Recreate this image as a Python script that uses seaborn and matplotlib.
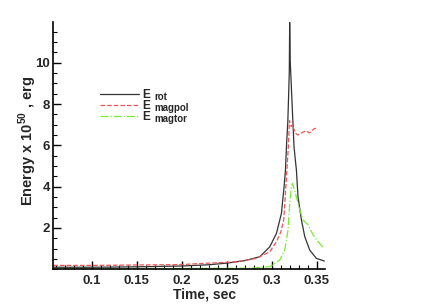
import matplotlib
matplotlib.use("Agg")
import matplotlib.pyplot as plt
from matplotlib.ticker import MultipleLocator
import pandas as pd
import seaborn as sns

# E_rot (solid black)
rot_t = [0.057, 0.1, 0.15, 0.2, 0.23, 0.25, 0.27, 0.2867, 0.2978, 0.3052,
         0.3107, 0.3137, 0.3152, 0.3165, 0.3178, 0.3188, 0.3195, 0.3199,
         0.3205, 0.3215, 0.3228, 0.3248, 0.3262, 0.3274, 0.3292, 0.333,
         0.3367, 0.3422, 0.3496, 0.3585]
rot_e = [0.1, 0.1, 0.12, 0.16, 0.22, 0.3, 0.42, 0.61, 1.09, 1.74,
         2.7, 4.0, 4.8, 6.1, 7.1, 8.5, 9.6, 11.95,
         10.1, 9.1, 7.8, 5.9, 5.3, 4.8, 3.5, 2.39,
         1.58, 0.93, 0.53, 0.4]

# E_magpol (red dashed)
pol_t = [0.057, 0.1, 0.15, 0.2, 0.22, 0.24, 0.26, 0.283, 0.2978, 0.3052,
         0.31, 0.3133, 0.3167, 0.3185, 0.3197, 0.3215, 0.323, 0.326, 0.329,
         0.333, 0.338, 0.342, 0.347, 0.351]
pol_e = [0.19, 0.19, 0.21, 0.23, 0.28, 0.32, 0.36, 0.53, 0.85, 1.34,
         1.8, 2.4, 4.7, 6.0, 7.2, 6.9, 7.0, 6.6, 6.5,
         6.6, 6.7, 6.6, 6.8, 6.85]

# E_magtor (green dash-dot)
tor_t = [0.057, 0.1, 0.15, 0.2, 0.24, 0.2756, 0.298, 0.3089, 0.3144, 0.3181,
         0.32, 0.3219, 0.323, 0.3274, 0.3311, 0.3348, 0.3404, 0.346, 0.3515,
         0.357]
tor_e = [0.03, 0.03, 0.03, 0.04, 0.05, 0.05, 0.13, 0.45, 0.93, 1.9,
         3.2, 4.0, 4.16, 3.5, 2.87, 2.39, 2.15, 1.66, 1.34,
         1.06]

subscripts = ["rot", "magpol", "magtor"]

sns.set_style("ticks")
plt.rcParams["font.family"] = ["Liberation Sans", "DejaVu Sans"]
plt.rcParams["font.weight"] = "bold"
plt.rcParams["mathtext.fontset"] = "custom"
plt.rcParams["mathtext.rm"] = "Liberation Sans"
plt.rcParams["mathtext.bf"] = "Liberation Sans:bold"

fig = plt.figure(figsize=(4.36, 3.08), dpi=100)
ax = fig.add_axes([0.1216, 0.1256, 0.6234, 0.803])

series = [
    (rot_t, rot_e, "#333333", "-", None),
    (pol_t, pol_e, "#ee5555", "--", (10, 7)),
    (tor_t, tor_e, "#77ee33", "-.", (10, 3, 1.5, 3)),
]
for t, e, col, ls, dash in series:
    df = pd.DataFrame({"time": t, "energy": e})
    kw = dict(x="time", y="energy", data=df, ax=ax, color=col,
              linewidth=0.9, label="E", linestyle=ls)
    if dash is not None:
        kw["dashes"] = dash
    sns.lineplot(**kw)

ax.set_xlim(0.0567, 0.359)
ax.set_ylim(0, 11.97)
ax.set_xticks([0.1, 0.15, 0.2, 0.25, 0.3, 0.35])
ax.set_xticklabels(["0.1", "0.15", "0.2", "0.25", "0.3", "0.35"])
ax.set_yticks([2, 4, 6, 8, 10])
ax.xaxis.set_minor_locator(MultipleLocator(0.01))
ax.yaxis.set_minor_locator(MultipleLocator(0.5))
ax.tick_params(which="both", direction="in", color="black", labelsize=9.5)
ax.tick_params(which="major", length=6, width=1)
ax.tick_params(which="minor", length=3, width=0.8)
ax.tick_params(axis="y", pad=2)
ax.tick_params(axis="x", pad=4)
for lab in ax.get_xticklabels() + ax.get_yticklabels():
    lab.set_fontweight("bold")

sns.despine(ax=ax)
for sp in ("left", "bottom"):
    ax.spines[sp].set_linewidth(1.2)
    ax.spines[sp].set_color("black")

ax.set_xlabel("Time, sec", fontsize=10, fontweight="bold")
ax.xaxis.set_label_coords(0.559, -0.075)
ax.set_ylabel(r"Energy x 10$^{\mathbf{50}}$ , erg", fontsize=10.5,
              fontweight="bold", va="center")
ax.yaxis.set_label_coords(-0.092, 0.519)

leg = ax.legend(loc="upper left", bbox_to_anchor=(0.229, 0.712),
                bbox_transform=fig.transFigure, frameon=False, fontsize=8.5,
                handlelength=3.3, handletextpad=0.25, labelspacing=-0.06,
                borderpad=0, borderaxespad=0)

# subscripts next to each "E" of the legend
fig.canvas.draw()
inv = fig.transFigure.inverted()
for txt, sub in zip(leg.get_texts(), subscripts):
    bb = txt.get_window_extent()
    x, y = inv.transform((bb.x1 + 5, bb.y0 + 9))
    fig.text(x, y, sub, ha="left", va="top", fontsize=7, fontweight="bold")

fig.savefig("out.png", dpi=100)
